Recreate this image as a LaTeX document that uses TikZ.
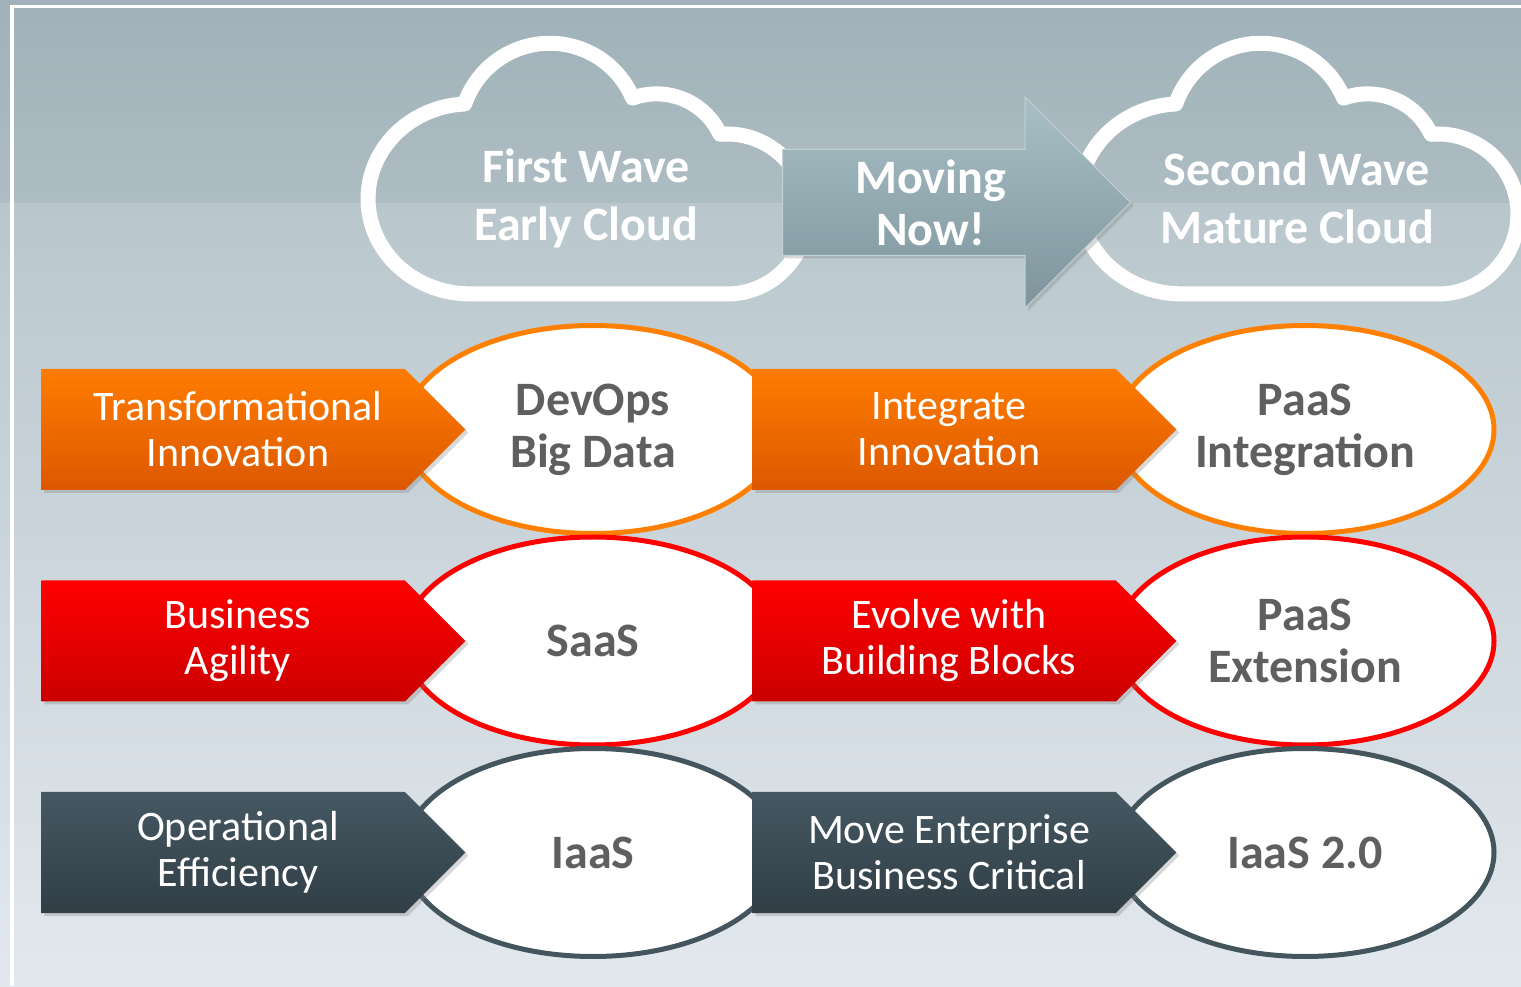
\documentclass[tikz,border=0pt]{standalone}
\usepackage{fontspec}
\setmainfont{Carlito}
\usetikzlibrary{positioning,calc}
\usetikzlibrary{shapes.geometric,shapes.symbols,shapes.arrows}
\usetikzlibrary{shadows}

\definecolor{bgtop}{HTML}{A0B1B9}
\definecolor{bgmid}{HTML}{AEBDC3}
\definecolor{bgband}{HTML}{B9C7CD}
\definecolor{bgbot}{HTML}{E2E8EE}
\definecolor{orgtop}{HTML}{FF7C00}
\definecolor{orgbot}{HTML}{DC5800}
\definecolor{orgline}{HTML}{FF8000}
\definecolor{redtop}{HTML}{FF0000}
\definecolor{redbot}{HTML}{CC0000}
\definecolor{slatetop}{HTML}{455862}
\definecolor{slatebot}{HTML}{313E46}
\definecolor{slateline}{HTML}{44555E}
\definecolor{ovalgray}{HTML}{5F5F5F}
\definecolor{movetop}{HTML}{A9BFC6}
\definecolor{movebot}{HTML}{7E949C}

\tikzset{
   rowarrow/.style={signal, signal to=east, signal pointer angle=90,
      minimum width=212pt, minimum height=60.5pt, inner sep=0pt, anchor=west,
      drop shadow={opacity=0.3, shadow xshift=1.5pt, shadow yshift=-1.5pt}},
   rowtext/.style={text=white, align=center, font=\fontsize{21}{23}\selectfont},
   ovalbox/.style={ellipse, fill=white, line width=2.5pt, minimum width=189pt,
      minimum height=104pt, inner sep=0pt, text=ovalgray, align=center,
      font=\fontsize{24}{26}\selectfont\bfseries},
   cloudline/.style={draw=white, line width=7.5pt, line join=round},
   wavetext/.style={text=white, align=center, font=\fontsize{24}{29}\selectfont\bfseries},
   pics/wavecloud/.style={code={
      \draw[cloudline] (-116,-96) -- (141,-96)
         arc[start angle=-90, end angle=95, radius=80]
         arc[start angle=25, end angle=110, radius=70]
         arc[start angle=23, end angle=161, radius=90]
         arc[start angle=93, end angle=270, x radius=102, y radius=95] -- cycle;
   }}
}

\begin{document}
\begin{tikzpicture}[x=0.5pt, y=0.5pt]
   \useasboundingbox (0,0) rectangle (1521,986);

   % background and frame
   \shade[top color=bgtop, bottom color=bgmid] (0,782) rectangle (1521,986);
   \shade[top color=bgband, bottom color=bgbot] (0,0) rectangle (1521,782);
   \draw[white, line width=1.75pt] (12,0) -- (12,979.5) -- (1521,979.5);

   % clouds
   \node[wavetext] (wave1) at (586,788) {First Wave\\Early Cloud};
   \node[wavetext] (wave2) at (1297,788) {Second Wave\\Mature Cloud};
   \pic at (wave1) {wavecloud};
   \pic at (wave2) {wavecloud};

   \node[single arrow, single arrow head extend=26.25pt, minimum width=105pt,
      minimum height=174pt, inner xsep=0pt, inner ysep=26.25pt, anchor=tail,
      top color=movetop, bottom color=movebot, draw=movetop!70!white, line width=0.5pt,
      drop shadow={opacity=0.3, shadow xshift=1.5pt, shadow yshift=-1.5pt}]
      (move) at (782,783.5) {};
   \node[text=white, align=center, font=\fontsize{24}{26}\selectfont\bfseries]
      (movet) at (930.5,783.5) {Moving\\Now!};

   % row 1
   \node[ovalbox, draw=orgline] (devops) at (593,556.5) {DevOps\\Big Data};
   \node[ovalbox, draw=orgline] (paasint) at (1305,556.5) {PaaS\\Integration};
   \node[rowarrow, top color=orgtop, bottom color=orgbot] (transf) at (41,556.5) {};
   \node[rowarrow, top color=orgtop, bottom color=orgbot] (integ) at (752,556.5) {};
   \node[rowtext] (transft) at ([xshift=98.5pt]transf.west) {Transformational\\Innovation};
   \node[rowtext] (integt) at ([xshift=98.5pt]integ.west) {Integrate\\Innovation};

   % row 2
   \node[ovalbox, draw=redtop] (saas) at (593,345) {SaaS};
   \node[ovalbox, draw=redtop] (paasext) at (1305,345) {PaaS\\Extension};
   \node[rowarrow, top color=redtop, bottom color=redbot] (agil) at (41,345) {};
   \node[rowarrow, top color=redtop, bottom color=redbot] (evolve) at (752,345) {};
   \node[rowtext] (agilt) at ([xshift=98.5pt]agil.west) {Business\\Agility};
   \node[rowtext] (evolvet) at ([xshift=98.5pt]evolve.west) {Evolve with\\Building Blocks};

   % row 3
   \node[ovalbox, draw=slateline] (iaas) at (593,133.5) {IaaS};
   \node[ovalbox, draw=slateline] (iaastwo) at (1305,133.5) {IaaS 2.0};
   \node[rowarrow, top color=slatetop, bottom color=slatebot] (opeff) at (41,133.5) {};
   \node[rowarrow, top color=slatetop, bottom color=slatebot] (moveent) at (752,133.5) {};
   \node[rowtext] (opefft) at ([xshift=98.5pt]opeff.west) {Operational\\Efficiency};
   \node[rowtext] (moveentt) at ([xshift=98.5pt]moveent.west) {Move Enterprise\\Business Critical};
\end{tikzpicture}
\end{document}
